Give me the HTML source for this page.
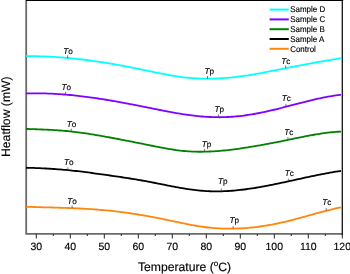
<!DOCTYPE html>
<html><head><meta charset="utf-8"><style>
html,body{margin:0;padding:0;background:#fff;width:350px;height:274px;overflow:hidden}
svg{display:block;will-change:transform}
text{font-family:"Liberation Sans",sans-serif;fill:#000;stroke:#000;stroke-width:0.15px;text-rendering:geometricPrecision}
.tl{font-size:10.5px}
.al{font-size:12.2px}
.mk{font-size:8.2px}
.lg{font-size:8.4px}
</style></head><body>
<svg width="350" height="274" viewBox="0 0 350 274">
<path d="M26.2,0 V233.9 H342" fill="none" stroke="#6a6a6a" stroke-width="1.8"/>
<line x1="342.3" y1="0" x2="342.3" y2="235" stroke="#111" stroke-width="1.3"/>
<line x1="26" y1="0.5" x2="343.2" y2="0.5" stroke="#000" stroke-width="1.2"/>
<path d="M36.30,234 v4.5 M53.30,234 v2.0 M70.30,234 v4.5 M87.30,234 v2.0 M104.30,234 v4.5 M121.30,234 v2.0 M138.30,234 v4.5 M155.30,234 v2.0 M172.30,234 v4.5 M189.30,234 v2.0 M206.30,234 v4.5 M223.30,234 v2.0 M240.30,234 v4.5 M257.30,234 v2.0 M274.30,234 v4.5 M291.30,234 v2.0 M308.30,234 v4.5 M325.30,234 v2.0 M342.30,234 v4.5" stroke="#222" stroke-width="1"/>
<text x="36.30" y="250" text-anchor="middle" class="tl">30</text>
<text x="70.30" y="250" text-anchor="middle" class="tl">40</text>
<text x="104.30" y="250" text-anchor="middle" class="tl">50</text>
<text x="138.30" y="250" text-anchor="middle" class="tl">60</text>
<text x="172.30" y="250" text-anchor="middle" class="tl">70</text>
<text x="206.30" y="250" text-anchor="middle" class="tl">80</text>
<text x="240.30" y="250" text-anchor="middle" class="tl">90</text>
<text x="274.30" y="250" text-anchor="middle" class="tl">100</text>
<text x="308.30" y="250" text-anchor="middle" class="tl">110</text>
<text x="342.30" y="250" text-anchor="middle" class="tl">120</text>
<text x="137.9" y="270.8" class="al">Temperature (<tspan dy="-4.8" font-size="8">o</tspan><tspan dy="4.8">C)</tspan></text>
<text transform="translate(9.5,116.7) rotate(-90)" text-anchor="middle" class="al">Heatflow (mW)</text>
<path d="M26.0,56.16 L28.0,56.15 L30.0,56.15 L32.0,56.15 L34.0,56.17 L36.0,56.20 L38.0,56.24 L40.0,56.29 L42.0,56.35 L44.0,56.42 L46.0,56.50 L48.0,56.59 L50.0,56.69 L52.0,56.80 L54.0,56.92 L56.0,57.05 L58.0,57.18 L60.0,57.33 L62.0,57.48 L64.0,57.64 L66.0,57.82 L68.0,58.00 L70.0,58.19 L72.0,58.38 L74.0,58.59 L76.0,58.80 L78.0,59.02 L80.0,59.25 L82.0,59.49 L84.0,59.73 L86.0,59.99 L88.0,60.25 L90.0,60.51 L92.0,60.79 L94.0,61.07 L96.0,61.36 L98.0,61.65 L100.0,61.95 L102.0,62.26 L104.0,62.58 L106.0,62.90 L108.0,63.23 L110.0,63.56 L112.0,63.91 L114.0,64.25 L116.0,64.60 L118.0,64.96 L120.0,65.32 L122.0,65.69 L124.0,66.06 L126.0,66.44 L128.0,66.82 L130.0,67.21 L132.0,67.60 L134.0,67.99 L136.0,68.39 L138.0,68.79 L140.0,69.19 L142.0,69.60 L144.0,70.01 L146.0,70.43 L148.0,70.84 L150.0,71.26 L152.0,71.68 L154.0,72.09 L156.0,72.51 L158.0,72.91 L160.0,73.32 L162.0,73.72 L164.0,74.11 L166.0,74.49 L168.0,74.87 L170.0,75.23 L172.0,75.58 L174.0,75.91 L176.0,76.23 L178.0,76.54 L180.0,76.82 L182.0,77.09 L184.0,77.34 L186.0,77.57 L188.0,77.77 L190.0,77.96 L192.0,78.12 L194.0,78.26 L196.0,78.38 L198.0,78.48 L200.0,78.56 L202.0,78.63 L204.0,78.67 L206.0,78.69 L208.0,78.70 L210.0,78.68 L212.0,78.65 L214.0,78.60 L216.0,78.54 L218.0,78.45 L220.0,78.35 L222.0,78.23 L224.0,78.10 L226.0,77.95 L228.0,77.78 L230.0,77.60 L232.0,77.41 L234.0,77.20 L236.0,76.97 L238.0,76.73 L240.0,76.47 L242.0,76.21 L244.0,75.93 L246.0,75.63 L248.0,75.32 L250.0,75.00 L252.0,74.67 L254.0,74.33 L256.0,73.98 L258.0,73.63 L260.0,73.26 L262.0,72.88 L264.0,72.50 L266.0,72.12 L268.0,71.73 L270.0,71.33 L272.0,70.93 L274.0,70.53 L276.0,70.13 L278.0,69.73 L280.0,69.32 L282.0,68.92 L284.0,68.52 L286.0,68.12 L288.0,67.72 L290.0,67.33 L292.0,66.93 L294.0,66.55 L296.0,66.16 L298.0,65.78 L300.0,65.40 L302.0,65.02 L304.0,64.64 L306.0,64.27 L308.0,63.90 L310.0,63.53 L312.0,63.17 L314.0,62.81 L316.0,62.45 L318.0,62.10 L320.0,61.75 L322.0,61.40 L324.0,61.05 L326.0,60.71 L328.0,60.37 L330.0,60.03 L332.0,59.70 L334.0,59.36 L336.0,59.04 L338.0,58.71 L340.0,58.39 L341.0,58.23" fill="none" stroke="#00ffff" stroke-width="1.8" stroke-linejoin="round"/>
<path d="M26.0,93.49 L28.0,93.42 L30.0,93.38 L32.0,93.34 L34.0,93.32 L36.0,93.31 L38.0,93.32 L40.0,93.34 L42.0,93.37 L44.0,93.41 L46.0,93.47 L48.0,93.53 L50.0,93.61 L52.0,93.71 L54.0,93.81 L56.0,93.92 L58.0,94.05 L60.0,94.18 L62.0,94.33 L64.0,94.49 L66.0,94.65 L68.0,94.83 L70.0,95.01 L72.0,95.21 L74.0,95.41 L76.0,95.63 L78.0,95.85 L80.0,96.08 L82.0,96.32 L84.0,96.56 L86.0,96.82 L88.0,97.08 L90.0,97.35 L92.0,97.63 L94.0,97.91 L96.0,98.20 L98.0,98.50 L100.0,98.80 L102.0,99.11 L104.0,99.43 L106.0,99.75 L108.0,100.08 L110.0,100.41 L112.0,100.75 L114.0,101.09 L116.0,101.44 L118.0,101.80 L120.0,102.16 L122.0,102.52 L124.0,102.89 L126.0,103.26 L128.0,103.63 L130.0,104.01 L132.0,104.40 L134.0,104.78 L136.0,105.17 L138.0,105.57 L140.0,105.96 L142.0,106.36 L144.0,106.76 L146.0,107.16 L148.0,107.57 L150.0,107.98 L152.0,108.38 L154.0,108.79 L156.0,109.20 L158.0,109.60 L160.0,110.00 L162.0,110.40 L164.0,110.80 L166.0,111.19 L168.0,111.57 L170.0,111.95 L172.0,112.32 L174.0,112.68 L176.0,113.03 L178.0,113.38 L180.0,113.71 L182.0,114.03 L184.0,114.34 L186.0,114.64 L188.0,114.92 L190.0,115.19 L192.0,115.44 L194.0,115.68 L196.0,115.91 L198.0,116.12 L200.0,116.31 L202.0,116.49 L204.0,116.64 L206.0,116.78 L208.0,116.91 L210.0,117.01 L212.0,117.09 L214.0,117.16 L216.0,117.20 L218.0,117.22 L220.0,117.23 L222.0,117.21 L224.0,117.16 L226.0,117.10 L228.0,117.01 L230.0,116.90 L232.0,116.77 L234.0,116.61 L236.0,116.44 L238.0,116.24 L240.0,116.02 L242.0,115.79 L244.0,115.53 L246.0,115.26 L248.0,114.97 L250.0,114.66 L252.0,114.33 L254.0,113.99 L256.0,113.63 L258.0,113.25 L260.0,112.86 L262.0,112.45 L264.0,112.03 L266.0,111.60 L268.0,111.15 L270.0,110.69 L272.0,110.22 L274.0,109.75 L276.0,109.26 L278.0,108.76 L280.0,108.26 L282.0,107.75 L284.0,107.24 L286.0,106.72 L288.0,106.20 L290.0,105.67 L292.0,105.15 L294.0,104.63 L296.0,104.10 L298.0,103.58 L300.0,103.07 L302.0,102.55 L304.0,102.05 L306.0,101.54 L308.0,101.05 L310.0,100.56 L312.0,100.08 L314.0,99.62 L316.0,99.16 L318.0,98.71 L320.0,98.28 L322.0,97.87 L324.0,97.46 L326.0,97.08 L328.0,96.71 L330.0,96.36 L332.0,96.02 L334.0,95.71 L336.0,95.42 L338.0,95.15 L340.0,94.91 L341.0,94.79" fill="none" stroke="#8000ff" stroke-width="1.8" stroke-linejoin="round"/>
<path d="M26.0,128.92 L28.0,128.99 L30.0,129.06 L32.0,129.13 L34.0,129.20 L36.0,129.27 L38.0,129.34 L40.0,129.42 L42.0,129.50 L44.0,129.58 L46.0,129.67 L48.0,129.77 L50.0,129.87 L52.0,129.97 L54.0,130.09 L56.0,130.21 L58.0,130.35 L60.0,130.49 L62.0,130.64 L64.0,130.80 L66.0,130.98 L68.0,131.16 L70.0,131.36 L72.0,131.58 L74.0,131.80 L76.0,132.04 L78.0,132.29 L80.0,132.56 L82.0,132.84 L84.0,133.12 L86.0,133.42 L88.0,133.72 L90.0,134.04 L92.0,134.36 L94.0,134.69 L96.0,135.03 L98.0,135.37 L100.0,135.72 L102.0,136.07 L104.0,136.42 L106.0,136.78 L108.0,137.15 L110.0,137.51 L112.0,137.88 L114.0,138.25 L116.0,138.63 L118.0,139.00 L120.0,139.38 L122.0,139.77 L124.0,140.15 L126.0,140.54 L128.0,140.93 L130.0,141.32 L132.0,141.71 L134.0,142.11 L136.0,142.51 L138.0,142.91 L140.0,143.31 L142.0,143.71 L144.0,144.12 L146.0,144.53 L148.0,144.93 L150.0,145.34 L152.0,145.75 L154.0,146.16 L156.0,146.56 L158.0,146.95 L160.0,147.34 L162.0,147.72 L164.0,148.10 L166.0,148.46 L168.0,148.80 L170.0,149.14 L172.0,149.46 L174.0,149.76 L176.0,150.05 L178.0,150.32 L180.0,150.56 L182.0,150.79 L184.0,150.99 L186.0,151.17 L188.0,151.32 L190.0,151.45 L192.0,151.55 L194.0,151.63 L196.0,151.69 L198.0,151.73 L200.0,151.74 L202.0,151.74 L204.0,151.71 L206.0,151.67 L208.0,151.61 L210.0,151.52 L212.0,151.42 L214.0,151.31 L216.0,151.18 L218.0,151.03 L220.0,150.86 L222.0,150.68 L224.0,150.49 L226.0,150.28 L228.0,150.07 L230.0,149.83 L232.0,149.59 L234.0,149.34 L236.0,149.07 L238.0,148.80 L240.0,148.52 L242.0,148.23 L244.0,147.93 L246.0,147.62 L248.0,147.31 L250.0,146.98 L252.0,146.66 L254.0,146.32 L256.0,145.98 L258.0,145.64 L260.0,145.29 L262.0,144.93 L264.0,144.57 L266.0,144.20 L268.0,143.83 L270.0,143.46 L272.0,143.08 L274.0,142.69 L276.0,142.30 L278.0,141.91 L280.0,141.51 L282.0,141.11 L284.0,140.71 L286.0,140.30 L288.0,139.89 L290.0,139.48 L292.0,139.07 L294.0,138.66 L296.0,138.24 L298.0,137.83 L300.0,137.43 L302.0,137.02 L304.0,136.63 L306.0,136.24 L308.0,135.85 L310.0,135.48 L312.0,135.11 L314.0,134.76 L316.0,134.42 L318.0,134.09 L320.0,133.77 L322.0,133.47 L324.0,133.19 L326.0,132.93 L328.0,132.68 L330.0,132.45 L332.0,132.25 L334.0,132.06 L336.0,131.90 L338.0,131.77 L340.0,131.66 L341.0,131.61" fill="none" stroke="#008000" stroke-width="1.8" stroke-linejoin="round"/>
<path d="M26.0,167.73 L28.0,167.78 L30.0,167.84 L32.0,167.90 L34.0,167.97 L36.0,168.04 L38.0,168.12 L40.0,168.20 L42.0,168.29 L44.0,168.39 L46.0,168.50 L48.0,168.61 L50.0,168.73 L52.0,168.86 L54.0,168.99 L56.0,169.13 L58.0,169.28 L60.0,169.44 L62.0,169.60 L64.0,169.78 L66.0,169.96 L68.0,170.15 L70.0,170.35 L72.0,170.56 L74.0,170.78 L76.0,171.00 L78.0,171.23 L80.0,171.47 L82.0,171.71 L84.0,171.96 L86.0,172.21 L88.0,172.47 L90.0,172.73 L92.0,173.00 L94.0,173.27 L96.0,173.54 L98.0,173.81 L100.0,174.09 L102.0,174.37 L104.0,174.65 L106.0,174.93 L108.0,175.22 L110.0,175.50 L112.0,175.79 L114.0,176.07 L116.0,176.36 L118.0,176.66 L120.0,176.95 L122.0,177.25 L124.0,177.55 L126.0,177.86 L128.0,178.17 L130.0,178.49 L132.0,178.81 L134.0,179.13 L136.0,179.46 L138.0,179.80 L140.0,180.14 L142.0,180.50 L144.0,180.85 L146.0,181.22 L148.0,181.59 L150.0,181.97 L152.0,182.36 L154.0,182.75 L156.0,183.14 L158.0,183.54 L160.0,183.93 L162.0,184.33 L164.0,184.73 L166.0,185.13 L168.0,185.52 L170.0,185.91 L172.0,186.30 L174.0,186.68 L176.0,187.05 L178.0,187.42 L180.0,187.77 L182.0,188.12 L184.0,188.45 L186.0,188.77 L188.0,189.08 L190.0,189.38 L192.0,189.65 L194.0,189.91 L196.0,190.16 L198.0,190.38 L200.0,190.58 L202.0,190.76 L204.0,190.92 L206.0,191.06 L208.0,191.17 L210.0,191.26 L212.0,191.32 L214.0,191.36 L216.0,191.37 L218.0,191.37 L220.0,191.34 L222.0,191.29 L224.0,191.22 L226.0,191.13 L228.0,191.02 L230.0,190.89 L232.0,190.74 L234.0,190.58 L236.0,190.40 L238.0,190.20 L240.0,189.98 L242.0,189.75 L244.0,189.50 L246.0,189.24 L248.0,188.97 L250.0,188.68 L252.0,188.38 L254.0,188.07 L256.0,187.74 L258.0,187.41 L260.0,187.06 L262.0,186.71 L264.0,186.34 L266.0,185.96 L268.0,185.58 L270.0,185.19 L272.0,184.79 L274.0,184.39 L276.0,183.98 L278.0,183.56 L280.0,183.14 L282.0,182.72 L284.0,182.29 L286.0,181.86 L288.0,181.42 L290.0,180.98 L292.0,180.55 L294.0,180.11 L296.0,179.67 L298.0,179.23 L300.0,178.79 L302.0,178.35 L304.0,177.91 L306.0,177.48 L308.0,177.05 L310.0,176.62 L312.0,176.20 L314.0,175.78 L316.0,175.37 L318.0,174.96 L320.0,174.56 L322.0,174.17 L324.0,173.78 L326.0,173.40 L328.0,173.03 L330.0,172.67 L332.0,172.32 L334.0,171.98 L336.0,171.65 L338.0,171.33 L340.0,171.02 L341.0,170.88" fill="none" stroke="#000000" stroke-width="1.8" stroke-linejoin="round"/>
<path d="M26.0,206.71 L28.0,206.78 L30.0,206.85 L32.0,206.92 L34.0,206.99 L36.0,207.05 L38.0,207.11 L40.0,207.17 L42.0,207.23 L44.0,207.29 L46.0,207.35 L48.0,207.40 L50.0,207.46 L52.0,207.52 L54.0,207.57 L56.0,207.63 L58.0,207.69 L60.0,207.75 L62.0,207.82 L64.0,207.88 L66.0,207.95 L68.0,208.02 L70.0,208.09 L72.0,208.17 L74.0,208.25 L76.0,208.34 L78.0,208.43 L80.0,208.52 L82.0,208.63 L84.0,208.73 L86.0,208.84 L88.0,208.96 L90.0,209.08 L92.0,209.21 L94.0,209.35 L96.0,209.50 L98.0,209.65 L100.0,209.81 L102.0,209.98 L104.0,210.16 L106.0,210.34 L108.0,210.54 L110.0,210.74 L112.0,210.96 L114.0,211.18 L116.0,211.41 L118.0,211.65 L120.0,211.90 L122.0,212.16 L124.0,212.42 L126.0,212.69 L128.0,212.97 L130.0,213.26 L132.0,213.56 L134.0,213.86 L136.0,214.17 L138.0,214.49 L140.0,214.82 L142.0,215.15 L144.0,215.49 L146.0,215.84 L148.0,216.20 L150.0,216.56 L152.0,216.93 L154.0,217.30 L156.0,217.68 L158.0,218.07 L160.0,218.46 L162.0,218.86 L164.0,219.27 L166.0,219.68 L168.0,220.10 L170.0,220.52 L172.0,220.95 L174.0,221.37 L176.0,221.80 L178.0,222.22 L180.0,222.64 L182.0,223.06 L184.0,223.47 L186.0,223.88 L188.0,224.27 L190.0,224.66 L192.0,225.04 L194.0,225.40 L196.0,225.75 L198.0,226.09 L200.0,226.40 L202.0,226.70 L204.0,226.99 L206.0,227.25 L208.0,227.49 L210.0,227.70 L212.0,227.90 L214.0,228.07 L216.0,228.22 L218.0,228.35 L220.0,228.46 L222.0,228.55 L224.0,228.61 L226.0,228.66 L228.0,228.68 L230.0,228.69 L232.0,228.68 L234.0,228.64 L236.0,228.59 L238.0,228.52 L240.0,228.42 L242.0,228.31 L244.0,228.18 L246.0,228.04 L248.0,227.87 L250.0,227.69 L252.0,227.49 L254.0,227.27 L256.0,227.03 L258.0,226.78 L260.0,226.51 L262.0,226.22 L264.0,225.91 L266.0,225.59 L268.0,225.26 L270.0,224.90 L272.0,224.54 L274.0,224.15 L276.0,223.75 L278.0,223.34 L280.0,222.91 L282.0,222.47 L284.0,222.01 L286.0,221.54 L288.0,221.05 L290.0,220.55 L292.0,220.04 L294.0,219.52 L296.0,218.99 L298.0,218.45 L300.0,217.91 L302.0,217.36 L304.0,216.80 L306.0,216.25 L308.0,215.69 L310.0,215.13 L312.0,214.57 L314.0,214.01 L316.0,213.46 L318.0,212.91 L320.0,212.37 L322.0,211.83 L324.0,211.31 L326.0,210.79 L328.0,210.28 L330.0,209.79 L332.0,209.31 L334.0,208.84 L336.0,208.39 L338.0,207.96 L340.0,207.54 L341.0,207.35" fill="none" stroke="#ff860c" stroke-width="1.8" stroke-linejoin="round"/>
<line x1="67.6" y1="55.2" x2="67.6" y2="58.0" stroke="#444" stroke-width="0.7"/>
<text x="63.2" y="53.6" class="mk"><tspan font-style="italic">T</tspan>o</text>
<line x1="207.5" y1="75.9" x2="207.5" y2="78.7" stroke="#444" stroke-width="0.7"/>
<text x="204.6" y="73.7" class="mk"><tspan font-style="italic">T</tspan>p</text>
<line x1="285.6" y1="65.4" x2="285.6" y2="68.2" stroke="#444" stroke-width="0.7"/>
<text x="281.2" y="64.2" class="mk"><tspan font-style="italic">T</tspan>c</text>
<line x1="65.6" y1="91.8" x2="65.6" y2="94.6" stroke="#444" stroke-width="0.7"/>
<text x="61.6" y="90.2" class="mk"><tspan font-style="italic">T</tspan>o</text>
<line x1="218.5" y1="114.4" x2="218.5" y2="117.2" stroke="#444" stroke-width="0.7"/>
<text x="214.4" y="111.7" class="mk"><tspan font-style="italic">T</tspan>p</text>
<line x1="285.9" y1="103.9" x2="285.9" y2="106.7" stroke="#444" stroke-width="0.7"/>
<text x="281.8" y="101.3" class="mk"><tspan font-style="italic">T</tspan>c</text>
<line x1="71.3" y1="128.7" x2="71.3" y2="131.5" stroke="#444" stroke-width="0.7"/>
<text x="66.8" y="127.0" class="mk"><tspan font-style="italic">T</tspan>o</text>
<line x1="204.6" y1="148.9" x2="204.6" y2="151.7" stroke="#444" stroke-width="0.7"/>
<text x="201.7" y="146.6" class="mk"><tspan font-style="italic">T</tspan>p</text>
<line x1="287.9" y1="137.1" x2="287.9" y2="139.9" stroke="#444" stroke-width="0.7"/>
<text x="284.3" y="135.0" class="mk"><tspan font-style="italic">T</tspan>c</text>
<line x1="67.8" y1="167.3" x2="67.8" y2="170.1" stroke="#444" stroke-width="0.7"/>
<text x="63.9" y="164.9" class="mk"><tspan font-style="italic">T</tspan>o</text>
<line x1="221.4" y1="188.5" x2="221.4" y2="191.3" stroke="#444" stroke-width="0.7"/>
<text x="217.9" y="184.3" class="mk"><tspan font-style="italic">T</tspan>p</text>
<line x1="288.4" y1="178.5" x2="288.4" y2="181.3" stroke="#444" stroke-width="0.7"/>
<text x="284.8" y="176.2" class="mk"><tspan font-style="italic">T</tspan>c</text>
<line x1="72.1" y1="205.4" x2="72.1" y2="208.2" stroke="#444" stroke-width="0.7"/>
<text x="67.3" y="204.1" class="mk"><tspan font-style="italic">T</tspan>o</text>
<line x1="233.2" y1="225.9" x2="233.2" y2="228.7" stroke="#444" stroke-width="0.7"/>
<text x="229.5" y="223.0" class="mk"><tspan font-style="italic">T</tspan>p</text>
<line x1="326.2" y1="207.9" x2="326.2" y2="210.7" stroke="#444" stroke-width="0.7"/>
<text x="322.3" y="205.3" class="mk"><tspan font-style="italic">T</tspan>c</text>
<line x1="269.6" y1="9.60" x2="288.8" y2="9.60" stroke="#00ffff" stroke-width="2"/>
<text transform="translate(290.2,12.30) scale(0.95,1)" class="lg">Sample D</text>
<line x1="269.6" y1="19.40" x2="288.8" y2="19.40" stroke="#8000ff" stroke-width="2"/>
<text transform="translate(290.2,22.10) scale(0.95,1)" class="lg">Sample C</text>
<line x1="269.6" y1="29.20" x2="288.8" y2="29.20" stroke="#008000" stroke-width="2"/>
<text transform="translate(290.2,31.90) scale(0.95,1)" class="lg">Sample B</text>
<line x1="269.6" y1="39.00" x2="288.8" y2="39.00" stroke="#000000" stroke-width="2"/>
<text transform="translate(290.2,41.70) scale(0.95,1)" class="lg">Sample A</text>
<line x1="269.6" y1="48.80" x2="288.8" y2="48.80" stroke="#ff860c" stroke-width="2"/>
<text transform="translate(290.2,51.50) scale(0.95,1)" class="lg">Control</text>
</svg>
</body></html>
